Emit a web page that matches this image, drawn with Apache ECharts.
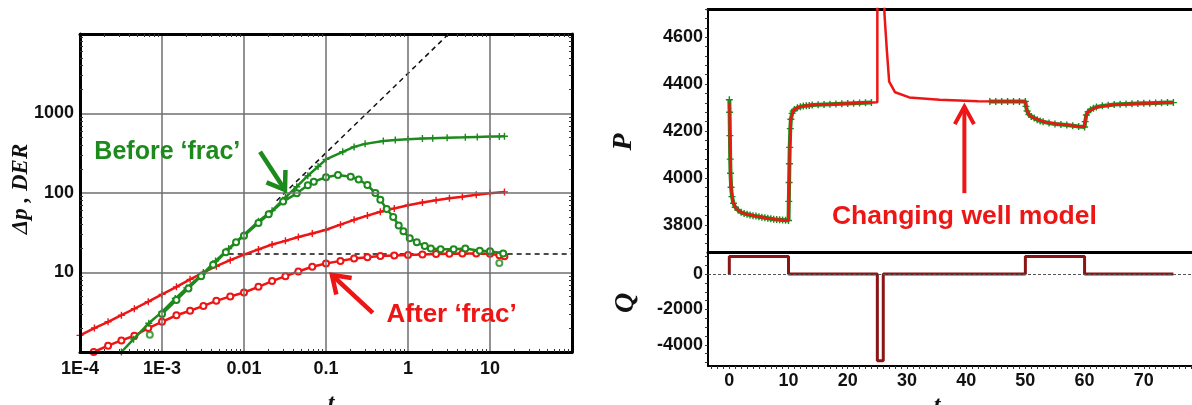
<!DOCTYPE html>
<html>
<head>
<meta charset="utf-8">
<script src="https://cdn.jsdelivr.net/npm/echarts@6/dist/echarts.min.js"></script>
<style>
  html, body { margin: 0; padding: 0; background: #fff; }
  #chart { width: 1192px; height: 405px; }
</style>
</head>
<body>
<div id="chart"></div>
<script>
// ---- left plot: log-log diagnostic (t, value) ----
const gpT = [3.2e-4, 4.5e-4, 6.9e-4, 1.0e-3, 1.45e-3, 2.0e-3, 3.1e-3, 4.5e-3, 6.5e-3, 0.01, 0.015, 0.022, 0.032, 0.044, 0.06, 0.08, 0.1, 0.16, 0.22, 0.3, 0.5, 0.7, 1, 1.5, 2, 3, 5, 7, 10, 13, 15]
const gpV = [1.0, 1.45, 2.3, 3.2, 4.7, 6.4, 9.5, 14, 20, 30, 44, 60, 88, 120, 165, 215, 265, 330, 380, 415, 450, 465, 475, 485, 490, 497, 503, 508, 512, 515, 518]
const gdT = [1.0e-3, 1.5e-3, 2.1e-3, 3.0e-3, 4.2e-3, 6.0e-3, 0.008, 0.01, 0.015, 0.02, 0.03, 0.044, 0.06, 0.071, 0.1, 0.14, 0.2, 0.25, 0.32, 0.4, 0.46, 0.55, 0.66, 0.77, 0.88, 1.05, 1.28, 1.6, 1.9, 2.5, 3.6, 5, 7.5, 10, 14.5]
const gdV = [3.0, 4.5, 6.3, 9.0, 12.5, 18, 24, 29, 42, 54, 78, 99, 125, 139, 158, 168, 160, 148, 126, 100, 82, 63, 50, 39, 33, 27, 24, 21.5, 20.1, 19.6, 19.6, 20, 18.8, 18.5, 17.4]
const gdOutT = [7.1e-4, 13]
const gdOutV = [1.65, 13.2]
const rpT = [1e-4, 1.5e-4, 2.2e-4, 3.2e-4, 4.6e-4, 6.8e-4, 1e-3, 1.5e-3, 2.2e-3, 3.2e-3, 4.6e-3, 6.8e-3, 0.01, 0.015, 0.022, 0.032, 0.046, 0.068, 0.1, 0.15, 0.22, 0.32, 0.46, 0.68, 1, 1.5, 2.2, 3.2, 4.6, 6.8, 10, 15]
const rpV = [1.62, 2.0, 2.4, 2.9, 3.5, 4.3, 5.3, 6.6, 8.2, 10, 12, 14.3, 16.8, 19.5, 22.5, 25, 28, 31, 34.5, 40, 46, 52, 58, 64, 70, 76, 81, 86, 90, 95, 99, 103]
const rdT = [1.47e-4, 2.2e-4, 3.2e-4, 4.6e-4, 6.8e-4, 1e-3, 1.5e-3, 2.2e-3, 3.2e-3, 4.6e-3, 6.8e-3, 0.01, 0.015, 0.022, 0.032, 0.046, 0.068, 0.1, 0.15, 0.22, 0.32, 0.46, 0.68, 1, 1.5, 2.2, 3.2, 4.6, 6.8, 10, 13, 15]
const rdV = [1.0, 1.2, 1.4, 1.6, 2.0, 2.4, 2.9, 3.3, 3.8, 4.4, 5.0, 5.6, 6.6, 7.8, 9.0, 10.3, 11.8, 13, 14, 15, 15.6, 16.1, 16.4, 16.6, 16.9, 17.1, 17.2, 17.3, 17.3, 17.2, 16.5, 16]
const slopeT = [0.025, 3.125]
const slopeV = [80, 10000]
const flatT = [6.5e-3, 100]
const flatV = [17.1, 17.1]
const xLogTicks = [1e-4, 1e-3, 0.01, 0.1, 1, 10]
const xLogLabels = ['1E-4', '1E-3', '0.01', '0.1', '1', '10']
const yLogTicks = [10, 100, 1000]
const yLogLabels = ['10', '100', '1000']

// ---- right plot: pressure history and rate ----
const pmT = [0, 0.05, 0.1, 0.2, 0.35, 0.6, 1.1, 2, 3.4, 5, 6.2, 8, 10, 10.1, 10.2, 10.4, 10.8, 11.3, 12.5, 14.6, 19, 23.8, 25, 25, 26, 26.2, 26.6, 27, 28, 30.4, 35.5, 42, 50, 50.2, 50.6, 51.2, 53.5, 56.9, 60, 60.2, 60.5, 61.9, 65.3, 70.9, 75]
const pmV = [4320, 4250, 4150, 4030, 3950, 3900, 3870, 3852, 3843, 3834, 3829, 3823, 3818, 3950, 4120, 4250, 4285, 4298, 4306, 4312, 4316, 4321, 4322, 5200, 5200, 4700, 4546, 4410, 4365, 4343, 4333, 4327, 4326, 4292, 4268, 4258, 4236, 4226, 4217, 4262, 4280, 4300, 4313, 4318, 4321]
const pdT = [0, 0.05, 0.1, 0.15, 0.2, 0.3, 0.45, 0.7, 1, 1.5, 2, 2.5, 3, 3.5, 4, 4.5, 5, 5.5, 6, 6.5, 7, 7.5, 8, 8.5, 9, 9.5, 10, 10.05, 10.1, 10.15, 10.2, 10.3, 10.4, 10.6, 10.8, 11, 11.5, 12, 12.5, 13, 13.5, 14, 15, 16, 17, 18, 19, 20, 21, 22, 23, 24, 34,
  44, 45, 46, 47, 48, 49, 50, 50.1, 50.3, 50.6, 51, 51.5, 52, 52.5, 53, 54, 55, 56, 57, 58, 59, 60, 60.1, 60.3, 60.6, 61, 61.5, 62, 63, 64, 65, 66, 67, 68, 69, 70, 71, 72, 73, 74, 75]
const pdV = [4333, 4280, 4180, 4080, 4020, 3960, 3920, 3892, 3875, 3862, 3853, 3848, 3845, 3842, 3839, 3837, 3834, 3832, 3830, 3828, 3826, 3824, 3823, 3821, 3820, 3819, 3818, 3900, 3980, 4060, 4130, 4210, 4250, 4275, 4285, 4292, 4299, 4303, 4306, 4308, 4309, 4311, 4312, 4313, 4314, 4315, 4316, 4317, 4318, 4319, 4320, 4321, null,
  4326, 4326, 4326, 4326, 4326, 4326, 4326, 4305, 4285, 4270, 4262, 4255, 4248, 4243, 4239, 4234, 4230, 4228, 4225, 4222, 4219, 4217, 4240, 4268, 4282, 4290, 4297, 4302, 4307, 4310, 4313, 4314, 4315, 4316, 4317, 4318, 4318, 4319, 4320, 4321, 4321]
const qT = [0, 0, 10, 25, 26, 50, 60, 75]
const qV = [0, 1000, 0, -4900, 0, 1000, 0, 0]
const tTicks = [0, 10, 20, 30, 40, 50, 60, 70]
const pTicks = [3800, 4000, 4200, 4400, 4600]
const qTicks = [-4000, -2000, 0]

// annotations, in data coordinates
const beforeText = [1.16e-3, 328]
const beforeArrow = [[0.0157, 331], [0.0316, 109]]
const afterText = [3.4, 2.92]
const afterArrow = [[0.372, 3.1], [0.118, 9.3]]
const changeText = [39.7, 3834]
const changeArrow = [[39.7, 3935], [39.7, 4304]]

const GREEN = '#1c8a1c'
const RED = '#ee1515'
const DARKRED = '#8b1414'
const PLUS = 'path://M4,0H6V4H10V6H6V10H4V6H0V4H4Z'
const LABEL = { fontFamily: 'Liberation Sans', fontWeight: 'bold', fontSize: 18, color: '#111' }
const FRAME = { show: true, onZero: false, lineStyle: { color: '#000', width: 3 } }

const zip = (xs, ys) => xs.map((x, i) => [x, ys[i] === null ? '-' : ys[i]])
const logLabel = (ticks, labels) => v => {
  const lv = Math.log10(v)
  for (let i = 0; i < ticks.length; i++) {
    if (Math.abs(Math.log10(ticks[i]) - lv) < 1e-6) return labels[i]
  }
  return ''
}
const range = (a, b, step) => {
  const out = []
  for (let v = a; v <= b + 1e-9; v += step) out.push(Math.round(v * 1000) / 1000)
  return out
}

const chart = echarts.init(document.getElementById('chart'))

const hidden = { axisLine: { show: false }, axisTick: { show: false }, axisLabel: { show: false }, splitLine: { show: false } }
const minor = { show: true, splitNumber: 9, length: 3, lineStyle: { color: '#333' } }
const grids = { outerBoundsMode: 'none', containLabel: false }

chart.setOption({
  animation: false,
  backgroundColor: '#fff',
  grid: [
    { left: 80, top: 34, right: 620, bottom: 53, ...grids },
    { left: 708, top: 9, right: -11, bottom: 153, ...grids },
    { left: 708, top: 252, right: -11, bottom: 39, ...grids }
  ],
  xAxis: [
    {
      type: 'log', gridIndex: 0, min: 1e-4, max: 100, logBase: 10, z: 5,
      axisLine: FRAME,
      axisTick: { show: false, inside: true },
      minorTick: minor,
      splitLine: { show: true, showMinLine: false, showMaxLine: false, lineStyle: { color: '#6e6e6e', width: 1.5 } },
      axisLabel: { ...LABEL, margin: 8, formatter: logLabel(xLogTicks, xLogLabels) }
    },
    {
      type: 'log', gridIndex: 0, min: 1e-4, max: 100, logBase: 10, position: 'top', z: 5,
      axisLine: FRAME, axisTick: { show: false, inside: true }, axisLabel: { show: false }, splitLine: { show: false },
      minorTick: minor
    },
    { type: 'value', gridIndex: 1, min: -3.6, max: 80, ...hidden, axisLine: FRAME },
    { type: 'value', gridIndex: 1, min: -3.6, max: 80, position: 'top', ...hidden, axisLine: FRAME },
    {
      type: 'value', gridIndex: 2, min: -3.6, max: 80,
      axisLine: { show: true, onZero: false, lineStyle: { color: '#000', width: 2 } },
      axisTick: { show: true, customValues: range(-3, 80, 1), length: 3, lineStyle: { color: '#333' } },
      splitLine: { show: false },
      axisLabel: { ...LABEL, margin: 6, customValues: tTicks, formatter: v => String(v) }
    }
  ],
  yAxis: [
    {
      type: 'log', gridIndex: 0, min: 1, max: 10000, logBase: 10, z: 5,
      axisLine: FRAME,
      axisTick: { show: false, inside: true },
      minorTick: minor,
      splitLine: { show: true, showMinLine: false, showMaxLine: false, lineStyle: { color: '#6e6e6e', width: 1.5 } },
      axisLabel: { ...LABEL, margin: 6, formatter: logLabel(yLogTicks, yLogLabels) }
    },
    {
      type: 'log', gridIndex: 0, min: 1, max: 10000, logBase: 10, position: 'right', z: 5,
      axisLine: FRAME, axisTick: { show: false, inside: true }, axisLabel: { show: false }, splitLine: { show: false },
      minorTick: minor
    },
    {
      type: 'value', gridIndex: 1, min: 3684, max: 4720,
      axisLine: { show: true, onZero: false, lineStyle: { color: '#000', width: 2 } },
      axisTick: { show: true, customValues: range(3720, 4720, 40), length: 3, lineStyle: { color: '#333' } },
      splitLine: { show: false },
      axisLabel: { ...LABEL, margin: 5, customValues: pTicks, formatter: v => String(v) }
    },
    {
      type: 'value', gridIndex: 2, min: -5200, max: 1250,
      axisLine: { show: true, onZero: false, lineStyle: { color: '#000', width: 2 } },
      axisTick: { show: true, customValues: range(-5000, 1000, 500), length: 3, lineStyle: { color: '#333' } },
      splitLine: { show: false },
      axisLabel: { ...LABEL, margin: 5, customValues: qTicks, formatter: v => String(v) }
    }
  ],
  series: [
    // left plot
    { type: 'line', xAxisIndex: 0, yAxisIndex: 0, data: zip(slopeT, slopeV), symbol: 'none', z: 2,
      lineStyle: { color: '#111', width: 1.5, type: [5, 4] } },
    { type: 'line', xAxisIndex: 0, yAxisIndex: 0, data: zip(flatT, flatV), symbol: 'none', z: 2,
      lineStyle: { color: '#111', width: 1.5, type: [5, 4] } },
    { type: 'line', xAxisIndex: 0, yAxisIndex: 0, data: zip(rpT, rpV), z: 3,
      symbol: PLUS, symbolSize: 7, itemStyle: { color: RED }, lineStyle: { color: RED, width: 2.5 } },
    { type: 'line', xAxisIndex: 0, yAxisIndex: 0, data: zip(rdT, rdV), z: 3,
      symbol: 'emptyCircle', symbolSize: 6, itemStyle: { color: RED, borderWidth: 1.3 }, lineStyle: { color: RED, width: 2.5 } },
    { type: 'line', xAxisIndex: 0, yAxisIndex: 0, data: zip(gpT, gpV), z: 4,
      symbol: PLUS, symbolSize: 7, itemStyle: { color: GREEN }, lineStyle: { color: GREEN, width: 2.5 } },
    { type: 'line', xAxisIndex: 0, yAxisIndex: 0, data: zip(gdT, gdV), z: 4,
      symbol: 'emptyCircle', symbolSize: 6, itemStyle: { color: GREEN, borderWidth: 1.3 }, lineStyle: { color: GREEN, width: 2.5 } },
    { type: 'scatter', xAxisIndex: 0, yAxisIndex: 0, data: zip(gdOutT, gdOutV), z: 4,
      symbol: 'emptyCircle', symbolSize: 6, itemStyle: { color: GREEN, borderWidth: 1.3 } },
    // right plot: pressure
    { type: 'line', xAxisIndex: 2, yAxisIndex: 2, data: zip(pdT, pdV), z: 3,
      symbol: PLUS, symbolSize: 7, itemStyle: { color: GREEN }, lineStyle: { color: GREEN, width: 4 } },
    { type: 'line', xAxisIndex: 2, yAxisIndex: 2, data: zip(pmT, pmV), z: 4, symbol: 'none',
      lineStyle: { color: RED, width: 2.5 } },
    // right plot: rate
    { type: 'line', xAxisIndex: 4, yAxisIndex: 3, data: zip(qT, qV), step: 'end', symbol: 'none', z: 4,
      lineStyle: { color: DARKRED, width: 3 },
      markLine: { silent: true, symbol: 'none', label: { show: false },
        lineStyle: { color: '#555', width: 1, type: [3, 2] }, data: [{ yAxis: 0 }] } }
  ]
})

// annotations and axis titles
function arrowEls (from, to, color, width, arm, ang) {
  const dx = to[0] - from[0]
  const dy = to[1] - from[1]
  const len = Math.hypot(dx, dy)
  const bx = -dx / len
  const by = -dy / len
  const rot = a => [to[0] + arm * (bx * Math.cos(a) - by * Math.sin(a)), to[1] + arm * (bx * Math.sin(a) + by * Math.cos(a))]
  return [
    { type: 'polyline', shape: { points: [from, to] }, style: { stroke: color, lineWidth: width, fill: null }, z: 100 },
    { type: 'polyline', shape: { points: [rot(ang), to, rot(-ang)] }, style: { stroke: color, lineWidth: width, fill: null, lineJoin: 'miter' }, z: 100 }
  ]
}
const px0 = p => chart.convertToPixel({ gridIndex: 0 }, p)
const px1 = p => chart.convertToPixel({ gridIndex: 1 }, p)
const textEl = (p, text, color, size) => ({
  type: 'text', x: p[0], y: p[1], z: 100,
  style: { text: text, fill: color, font: 'bold ' + size + 'px "Liberation Sans"', align: 'center', verticalAlign: 'middle' }
})
const titleEl = (x, y, text, size, rotate, va) => ({
  type: 'text', x: x, y: y, rotation: rotate ? Math.PI / 2 : 0, z: 100,
  style: { text: text, fill: '#111', font: 'italic bold ' + size + 'px "Liberation Serif"', align: 'center', verticalAlign: va || 'middle' }
})
chart.setOption({
  graphic: [
    textEl(px0(beforeText), 'Before \u2018frac\u2019', GREEN, 25),
    textEl(px0(afterText), 'After \u2018frac\u2019', RED, 26),
    textEl(px1(changeText), 'Changing well model', RED, 26.5),
    ...arrowEls(px0(beforeArrow[0]), px0(beforeArrow[1]), GREEN, 4.5, 20, 0.6),
    ...arrowEls(px0(afterArrow[0]), px0(afterArrow[1]), RED, 4.5, 20, 0.6),
    ...arrowEls(px1(changeArrow[0]), px1(changeArrow[1]), RED, 4, 20, 0.5),
    titleEl(21, 189, '\u0394p , DER', 23, true),
    titleEl(331, 392, 't', 24, false, 'top'),
    titleEl(624, 142, 'P', 28, true),
    titleEl(626, 303, 'Q', 28, true),
    titleEl(937, 394, 't', 24, false, 'top')
  ]
})
</script>
</body>
</html>
